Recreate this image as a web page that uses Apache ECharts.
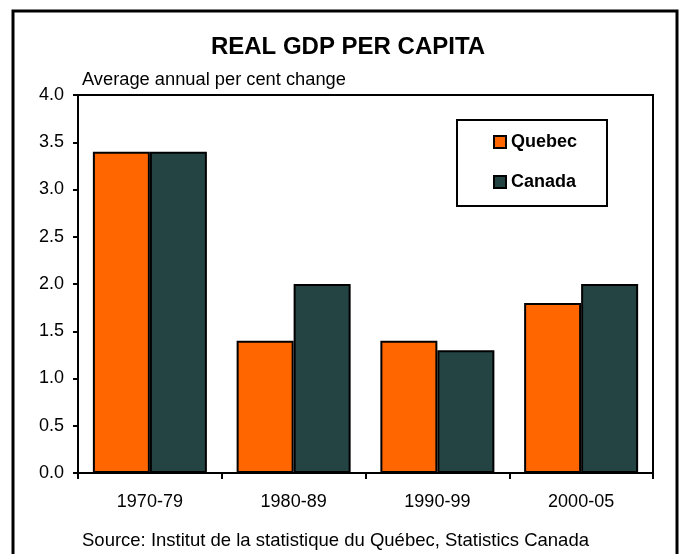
<!DOCTYPE html>
<html>
<head>
<meta charset="utf-8">
<script src="https://cdn.jsdelivr.net/npm/echarts@6/dist/echarts.min.js"></script>
<style>
  html, body { margin: 0; padding: 0; background: #fff; }
  #chart { width: 680px; height: 554px; }
</style>
</head>
<body>
<div id="chart"></div>
<script>
// data
const periods = ['1970-79', '1980-89', '1990-99', '2000-05'];
const quebec = [3.4, 1.4, 1.4, 1.8];
const canada = [3.4, 2.0, 1.3, 2.0];
const seriesNames = ['Quebec', 'Canada'];

const FONT = '"Liberation Sans", Arial, sans-serif';

const myChart = echarts.init(document.getElementById('chart'));

const option = {
    backgroundColor: '#fff',
    animation: false,
    title: {
        text: 'REAL GDP PER CAPITA',
        left: 343,
        textAlign: 'center',
        top: 30,
        textStyle: { fontFamily: FONT, fontSize: 24, fontWeight: 'bold', color: '#000' }
    },
    grid: {
        left: 78,
        right: 27,
        top: 95,
        bottom: 81,
        show: true,
        borderColor: '#000',
        borderWidth: 2,
        containLabel: false
    },
    legend: {
        orient: 'vertical',
        left: 488,
        top: 128,
        icon: 'rect',
        itemWidth: 12,
        itemHeight: 12,
        itemGap: 22,
        data: seriesNames,
        textStyle: { fontFamily: FONT, fontSize: 18, fontWeight: 'bold', color: '#000' }
    },
    xAxis: {
        type: 'category',
        data: periods,
        axisLine: { lineStyle: { color: '#000', width: 2 } },
        axisTick: { show: true, interval: 0, length: 6, lineStyle: { color: '#000', width: 2 } },
        axisLabel: { margin: 20, color: '#000', fontFamily: FONT, fontSize: 18 }
    },
    yAxis: {
        type: 'value',
        min: 0,
        max: 4,
        interval: 0.5,
        name: 'Average annual per cent change',
        nameLocation: 'end',
        nameGap: 6,
        nameTextStyle: { align: 'left', padding: [0, 0, 0, 4], color: '#000', fontFamily: FONT, fontSize: 18.3 },
        axisLine: { show: true, lineStyle: { color: '#000', width: 2 } },
        axisTick: { show: true, length: 5, lineStyle: { color: '#000', width: 2 } },
        splitLine: { show: false },
        axisLabel: {
            margin: 14,
            color: '#000',
            fontFamily: FONT,
            fontSize: 18,
            formatter: v => v.toFixed(1)
        }
    },
    series: [
        {
            name: seriesNames[0],
            type: 'bar',
            barWidth: 57,
            barGap: '0%',
            itemStyle: { color: '#FF6600', borderColor: '#000', borderWidth: 2 },
            data: quebec
        },
        {
            name: seriesNames[1],
            type: 'bar',
            barWidth: 57,
            barGap: '0%',
            itemStyle: { color: '#244444', borderColor: '#000', borderWidth: 2 },
            data: canada
        }
    ],
    graphic: [
        {
            type: 'rect',
            shape: { x: 13, y: 11, width: 664, height: 560 },
            style: { fill: null, stroke: '#000', lineWidth: 3 },
            silent: true
        },
        {
            type: 'rect',
            shape: { x: 457, y: 120, width: 150, height: 86 },
            style: { fill: null, stroke: '#000', lineWidth: 2 },
            silent: true
        },
        {
            type: 'text',
            left: 82,
            top: 531,
            style: {
                text: 'Source: Institut de la statistique du Québec, Statistics Canada',
                fontFamily: FONT,
                fontSize: 18.5,
                fill: '#000'
            }
        }
    ]
};

myChart.setOption(option);
</script>
</body>
</html>
